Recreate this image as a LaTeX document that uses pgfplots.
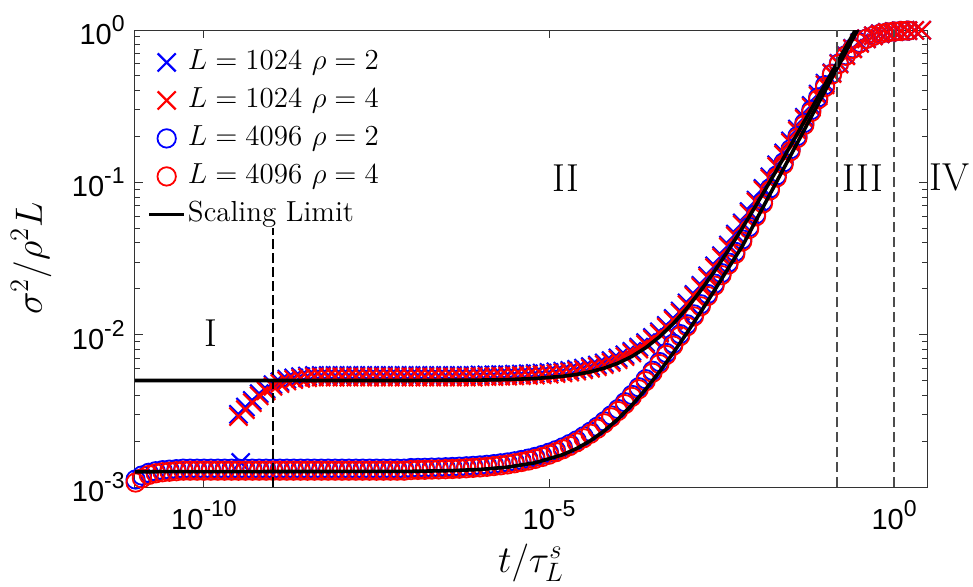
\RequirePackage{fix-cm}
\documentclass[border=0pt]{standalone}
\usepackage{fontspec}
\usepackage{pgfplots}
\usepackage{pgfplotstable}
\pgfplotsset{compat=1.18}
\newfontfamily\tickfont{Liberation Sans}
\newcommand{\tl}[1]{{\tickfont\fontsize{14.5}{15}\selectfont 10\raisebox{6.5pt}{\fontsize{11.5}{12}\selectfont #1}}}
\newcommand{\reg}{\fontsize{19.5}{20}\selectfont}

% L=1024 rho=2
\pgfplotstableread[row sep=\\]{x y\\
3.162e-10 0.00300\\ 3.981e-10 0.00335\\ 5.012e-10 0.00370\\ 6.310e-10 0.00410\\ 7.943e-10 0.00440\\
1e-9 0.00470\\ 1.259e-9 0.00490\\ 1.585e-9 0.00510\\ 1.995e-9 0.00520\\ 2.512e-9 0.00530\\ 3.162e-9 0.00535\\ 3.981e-9 0.00540\\ 5.012e-9 0.00540\\ 6.310e-9 0.00540\\ 7.943e-9 0.00540\\
1e-8 0.00540\\ 1.259e-8 0.00540\\ 1.585e-8 0.00540\\ 1.995e-8 0.00540\\ 2.512e-8 0.00540\\ 3.162e-8 0.00540\\ 3.981e-8 0.00540\\ 5.012e-8 0.00540\\ 6.310e-8 0.00540\\ 7.943e-8 0.00540\\
1e-7 0.00540\\ 1.259e-7 0.00540\\ 1.585e-7 0.00540\\ 1.995e-7 0.00540\\ 2.512e-7 0.00540\\ 3.162e-7 0.00540\\ 3.981e-7 0.00540\\ 5.012e-7 0.00540\\ 6.310e-7 0.00540\\ 7.943e-7 0.00540\\
1e-6 0.00544\\ 1.259e-6 0.00545\\ 1.585e-6 0.00545\\ 1.995e-6 0.00547\\ 2.512e-6 0.00548\\ 3.162e-6 0.00550\\ 3.981e-6 0.00552\\ 5.012e-6 0.00554\\ 6.310e-6 0.00557\\ 7.943e-6 0.00560\\
1e-5 0.00565\\ 1.259e-5 0.00570\\ 1.585e-5 0.00576\\ 1.995e-5 0.00583\\ 2.512e-5 0.00592\\ 3.162e-5 0.00603\\ 3.981e-5 0.00617\\ 5.012e-5 0.00632\\ 6.310e-5 0.00652\\ 7.943e-5 0.00675\\
1e-4 0.00703\\ 1.259e-4 0.00737\\ 1.585e-4 0.00777\\ 1.995e-4 0.00827\\ 2.512e-4 0.00886\\ 3.162e-4 0.00958\\ 3.981e-4 0.01045\\ 5.012e-4 0.01150\\ 6.310e-4 0.01277\\ 7.943e-4 0.01430\\
1e-3 0.01615\\ 1.259e-3 0.01838\\ 1.585e-3 0.02108\\ 1.995e-3 0.02434\\ 2.512e-3 0.02827\\ 3.162e-3 0.03304\\ 3.981e-3 0.03877\\ 5.012e-3 0.04572\\ 6.310e-3 0.05409\\ 7.943e-3 0.06421\\
1e-2 0.07643\\ 1.259e-2 0.09118\\ 1.585e-2 0.1088\\ 1.995e-2 0.1303\\ 2.512e-2 0.1560\\ 3.162e-2 0.1868\\ 3.981e-2 0.2238\\ 5.012e-2 0.2676\\ 6.310e-2 0.3194\\ 7.943e-2 0.3795\\
0.1 0.4481\\ 0.1259 0.5237\\ 0.1585 0.6039\\ 0.1995 0.6842\\ 0.2512 0.7594\\ 0.3162 0.8251\\ 0.3981 0.8774\\ 0.5012 0.9169\\ 0.6310 0.9454\\ 0.7943 0.9647\\
1 0.9774\\ 1.259 0.9858\\ 1.585 0.9912\\ 1.995 0.9944\\ 2.512 0.9965\\
3.4e-10 0.00145\\
}\bxdata

% L=1024 rho=4
\pgfplotstableread[row sep=\\]{x y\\
3.162e-10 0.00290\\ 3.981e-10 0.00322\\ 5.012e-10 0.00358\\ 6.310e-10 0.00397\\ 7.943e-10 0.00428\\
1e-9 0.00458\\ 1.259e-9 0.00478\\ 1.585e-9 0.00497\\ 1.995e-9 0.00507\\ 2.512e-9 0.00517\\ 3.162e-9 0.00522\\ 3.981e-9 0.00527\\ 5.012e-9 0.00527\\ 6.310e-9 0.00527\\ 7.943e-9 0.00527\\
1e-8 0.00527\\ 1.259e-8 0.00527\\ 1.585e-8 0.00527\\ 1.995e-8 0.00527\\ 2.512e-8 0.00527\\ 3.162e-8 0.00527\\ 3.981e-8 0.00527\\ 5.012e-8 0.00527\\ 6.310e-8 0.00527\\ 7.943e-8 0.00527\\
1e-7 0.00527\\ 1.259e-7 0.00527\\ 1.585e-7 0.00527\\ 1.995e-7 0.00527\\ 2.512e-7 0.00527\\ 3.162e-7 0.00527\\ 3.981e-7 0.00527\\ 5.012e-7 0.00527\\ 6.310e-7 0.00527\\ 7.943e-7 0.00527\\
1e-6 0.00530\\ 1.259e-6 0.00531\\ 1.585e-6 0.00531\\ 1.995e-6 0.00533\\ 2.512e-6 0.00534\\ 3.162e-6 0.00536\\ 3.981e-6 0.00538\\ 5.012e-6 0.00540\\ 6.310e-6 0.00543\\ 7.943e-6 0.00546\\
1e-5 0.00551\\ 1.259e-5 0.00556\\ 1.585e-5 0.00562\\ 1.995e-5 0.00568\\ 2.512e-5 0.00577\\ 3.162e-5 0.00588\\ 3.981e-5 0.00602\\ 5.012e-5 0.00616\\ 6.310e-5 0.00636\\ 7.943e-5 0.00658\\
1e-4 0.00685\\ 1.259e-4 0.00719\\ 1.585e-4 0.00758\\ 1.995e-4 0.00806\\ 2.512e-4 0.00864\\ 3.162e-4 0.00934\\ 3.981e-4 0.01019\\ 5.012e-4 0.01121\\ 6.310e-4 0.01245\\ 7.943e-4 0.01394\\
1e-3 0.01575\\ 1.259e-3 0.01792\\ 1.585e-3 0.02055\\ 1.995e-3 0.02373\\ 2.512e-3 0.02756\\ 3.162e-3 0.03221\\ 3.981e-3 0.03780\\ 5.012e-3 0.04458\\ 6.310e-3 0.05274\\ 7.943e-3 0.06260\\
1e-2 0.07452\\ 1.259e-2 0.08890\\ 1.585e-2 0.1061\\ 1.995e-2 0.1270\\ 2.512e-2 0.1521\\ 3.162e-2 0.1821\\ 3.981e-2 0.2182\\ 5.012e-2 0.2609\\ 6.310e-2 0.3114\\ 7.943e-2 0.3700\\
0.1 0.4369\\ 0.1259 0.5185\\ 0.1585 0.5979\\ 0.1995 0.6774\\ 0.2512 0.7518\\ 0.3162 0.8168\\ 0.3981 0.8750\\ 0.5012 0.9150\\ 0.6310 0.9440\\ 0.7943 0.9640\\
1 0.9770\\ 1.259 0.9855\\ 1.585 0.9910\\ 1.995 0.9943\\ 2.512 0.9965\\
}\rxdata

% L=4096 rho=2
\pgfplotstableread[row sep=\\]{x y\\
1.02e-11 0.00112\\ 1.259e-11 0.00119\\ 1.585e-11 0.00124\\ 1.995e-11 0.00127\\ 2.512e-11 0.00129\\ 3.162e-11 0.00130\\ 3.981e-11 0.00131\\ 5.012e-11 0.00132\\ 6.310e-11 0.00132\\ 7.943e-11 0.00132\\
1e-10 0.00132\\ 1.259e-10 0.00132\\ 1.585e-10 0.00132\\ 1.995e-10 0.00132\\ 2.512e-10 0.00132\\ 3.162e-10 0.00132\\ 3.981e-10 0.00132\\ 5.012e-10 0.00132\\ 6.310e-10 0.00132\\ 7.943e-10 0.00132\\
1e-9 0.00132\\ 1.259e-9 0.00132\\ 1.585e-9 0.00132\\ 1.995e-9 0.00132\\ 2.512e-9 0.00132\\ 3.162e-9 0.00132\\ 3.981e-9 0.00132\\ 5.012e-9 0.00132\\ 6.310e-9 0.00132\\ 7.943e-9 0.00132\\
1e-8 0.00132\\ 1.259e-8 0.00132\\ 1.585e-8 0.00132\\ 1.995e-8 0.00132\\ 2.512e-8 0.00132\\ 3.162e-8 0.00132\\ 3.981e-8 0.00132\\ 5.012e-8 0.00132\\ 6.310e-8 0.00132\\ 7.943e-8 0.00132\\
1e-7 0.001332\\ 1.259e-7 0.001335\\ 1.585e-7 0.001337\\ 1.995e-7 0.001341\\ 2.512e-7 0.001344\\ 3.162e-7 0.001349\\ 3.981e-7 0.001354\\ 5.012e-7 0.001360\\ 6.310e-7 0.001368\\ 7.943e-7 0.001377\\
1e-6 0.001387\\ 1.259e-6 0.001399\\ 1.585e-6 0.001414\\ 1.995e-6 0.001431\\ 2.512e-6 0.001451\\ 3.162e-6 0.001475\\ 3.981e-6 0.001504\\ 5.012e-6 0.001537\\ 6.310e-6 0.001577\\ 7.943e-6 0.001624\\
1e-5 0.001680\\ 1.259e-5 0.001746\\ 1.585e-5 0.001824\\ 1.995e-5 0.001916\\ 2.512e-5 0.002025\\ 3.162e-5 0.002154\\ 3.981e-5 0.002306\\ 5.012e-5 0.002487\\ 6.310e-5 0.002700\\ 7.943e-5 0.002953\\
1e-4 0.003252\\ 1.259e-4 0.003606\\ 1.585e-4 0.004024\\ 1.995e-4 0.004519\\ 2.512e-4 0.005104\\ 3.162e-4 0.005797\\ 3.981e-4 0.006617\\ 5.012e-4 0.007586\\ 6.310e-4 0.008733\\ 7.943e-4 0.01009\\
1e-3 0.01170\\ 1.259e-3 0.01359\\ 1.585e-3 0.01584\\ 1.995e-3 0.01850\\ 2.512e-3 0.02164\\ 3.162e-3 0.02536\\ 3.981e-3 0.02976\\ 5.012e-3 0.03497\\ 6.310e-3 0.04215\\ 7.943e-3 0.05094\\
1e-2 0.06172\\ 1.259e-2 0.07494\\ 1.585e-2 0.09123\\ 1.995e-2 0.1111\\ 2.512e-2 0.1354\\ 3.162e-2 0.1652\\ 3.981e-2 0.2015\\ 5.012e-2 0.2455\\ 6.310e-2 0.2986\\ 7.943e-2 0.3614\\
0.1 0.4343\\ 0.1259 0.5163\\ 0.1585 0.6039\\ 0.1995 0.6842\\ 0.2512 0.7594\\ 0.3162 0.8251\\ 0.3981 0.8774\\ 0.5012 0.9169\\ 0.6310 0.9454\\ 0.7943 0.9647\\
1 0.9774\\ 1.259 0.9858\\ 1.585 0.9912\\
}\bodata

% L=4096 rho=4
\pgfplotstableread[row sep=\\]{x y\\
1.02e-11 0.00107\\ 1.259e-11 0.00114\\ 1.585e-11 0.00120\\ 1.995e-11 0.00123\\ 2.512e-11 0.00125\\ 3.162e-11 0.00126\\ 3.981e-11 0.00127\\ 5.012e-11 0.00128\\ 6.310e-11 0.00128\\ 7.943e-11 0.00128\\
1e-10 0.00128\\ 1.259e-10 0.00128\\ 1.585e-10 0.00128\\ 1.995e-10 0.00128\\ 2.512e-10 0.00128\\ 3.162e-10 0.00128\\ 3.981e-10 0.00128\\ 5.012e-10 0.00128\\ 6.310e-10 0.00128\\ 7.943e-10 0.00128\\
1e-9 0.00128\\ 1.259e-9 0.00128\\ 1.585e-9 0.00128\\ 1.995e-9 0.00128\\ 2.512e-9 0.00128\\ 3.162e-9 0.00128\\ 3.981e-9 0.00128\\ 5.012e-9 0.00128\\ 6.310e-9 0.00128\\ 7.943e-9 0.00128\\
1e-8 0.00128\\ 1.259e-8 0.00128\\ 1.585e-8 0.00128\\ 1.995e-8 0.00128\\ 2.512e-8 0.00128\\ 3.162e-8 0.00128\\ 3.981e-8 0.00128\\ 5.012e-8 0.00128\\ 6.310e-8 0.00128\\ 7.943e-8 0.00128\\
1e-7 0.001292\\ 1.259e-7 0.001295\\ 1.585e-7 0.001297\\ 1.995e-7 0.001301\\ 2.512e-7 0.001304\\ 3.162e-7 0.001309\\ 3.981e-7 0.001313\\ 5.012e-7 0.001319\\ 6.310e-7 0.001327\\ 7.943e-7 0.001336\\
1e-6 0.001345\\ 1.259e-6 0.001357\\ 1.585e-6 0.001372\\ 1.995e-6 0.001388\\ 2.512e-6 0.001407\\ 3.162e-6 0.001431\\ 3.981e-6 0.001459\\ 5.012e-6 0.001491\\ 6.310e-6 0.001530\\ 7.943e-6 0.001575\\
1e-5 0.001630\\ 1.259e-5 0.001694\\ 1.585e-5 0.001769\\ 1.995e-5 0.001859\\ 2.512e-5 0.001964\\ 3.162e-5 0.002089\\ 3.981e-5 0.002237\\ 5.012e-5 0.002412\\ 6.310e-5 0.002619\\ 7.943e-5 0.002864\\
1e-4 0.003154\\ 1.259e-4 0.003498\\ 1.585e-4 0.003903\\ 1.995e-4 0.004383\\ 2.512e-4 0.004951\\ 3.162e-4 0.005623\\ 3.981e-4 0.006418\\ 5.012e-4 0.007358\\ 6.310e-4 0.008471\\ 7.943e-4 0.009787\\
1e-3 0.01135\\ 1.259e-3 0.01318\\ 1.585e-3 0.01536\\ 1.995e-3 0.01795\\ 2.512e-3 0.02099\\ 3.162e-3 0.02460\\ 3.981e-3 0.02887\\ 5.012e-3 0.03392\\ 6.310e-3 0.04089\\ 7.943e-3 0.04941\\
1e-2 0.05987\\ 1.259e-2 0.07269\\ 1.585e-2 0.08849\\ 1.995e-2 0.1078\\ 2.512e-2 0.1313\\ 3.162e-2 0.1602\\ 3.981e-2 0.1955\\ 5.012e-2 0.2381\\ 6.310e-2 0.2896\\ 7.943e-2 0.3506\\
0.1 0.4213\\ 0.1259 0.5111\\ 0.1585 0.5979\\ 0.1995 0.6774\\ 0.2512 0.7518\\ 0.3162 0.8168\\ 0.3981 0.8750\\ 0.5012 0.9150\\ 0.6310 0.9440\\ 0.7943 0.9640\\
1 0.9770\\ 1.259 0.9855\\ 1.585 0.9910\\
}\rodata

% scaling limit, upper branch
\pgfplotstableread[row sep=\\]{x y\\
1e-11 0.005\\ 1e-7 0.005005\\ 1e-6 0.005035\\ 2.512e-6 0.005073\\ 6.310e-6 0.005156\\ 1.585e-5 0.005333\\ 2.512e-5 0.005485\\ 3.981e-5 0.005708\\ 6.310e-5 0.006033\\ 1e-4 0.006507\\ 1.585e-4 0.007198\\ 2.512e-4 0.008206\\ 3.981e-4 0.009677\\ 6.310e-4 0.01182\\ 1e-3 0.01495\\ 1.585e-3 0.01952\\ 2.512e-3 0.02618\\ 3.981e-3 0.03590\\ 6.310e-3 0.05008\\ 1e-2 0.07077\\ 1.585e-2 0.1009\\ 2.512e-2 0.1450\\ 3.981e-2 0.2092\\ 6.310e-2 0.3029\\ 0.1 0.4395\\ 0.1585 0.6389\\ 0.2512 0.9297\\ 0.3162 1.122\\
}\sudata

% scaling limit, lower branch
\pgfplotstableread[row sep=\\]{x y\\
1e-11 0.00126\\ 1e-7 0.0012675\\ 3.981e-7 0.001282\\ 1e-6 0.001304\\ 2.512e-6 0.001350\\ 6.310e-6 0.001443\\ 1.585e-5 0.001632\\ 2.512e-5 0.00179\\ 3.981e-5 0.002015\\ 6.310e-5 0.002336\\ 1e-4 0.002795\\ 1.585e-4 0.003448\\ 2.512e-4 0.004379\\ 3.981e-4 0.005706\\ 6.310e-4 0.007599\\ 1e-3 0.0103\\ 1.585e-3 0.01414\\ 2.512e-3 0.01963\\ 3.981e-3 0.02744\\ 6.310e-3 0.0381\\ 1e-2 0.0564\\ 1.585e-2 0.0834\\ 2.512e-2 0.1233\\ 3.981e-2 0.1824\\ 6.310e-2 0.2698\\ 0.1 0.3990\\ 0.1585 0.5902\\ 0.2512 0.8730\\ 0.3981 1.291\\
}\sldata

\begin{document}
\begin{tikzpicture}
\begin{axis}[
  xmode=log, ymode=log,
  scale only axis, width=396pt, height=228.5pt,
  xmin=1e-11, xmax=3, ymin=1e-3, ymax=1,
  xtick={1e-10,1e-5,1}, xticklabels={\tl{-10},\tl{-5},\tl{0}},
  ytick={1e-3,1e-2,1e-1,1}, yticklabels={\tl{-3},\tl{-2},\tl{-1},\tl{0}},
  xminorticks=false,
  minor ytick={2e-3,3e-3,4e-3,5e-3,6e-3,7e-3,8e-3,9e-3,2e-2,3e-2,4e-2,5e-2,6e-2,7e-2,8e-2,9e-2,0.2,0.3,0.4,0.5,0.6,0.7,0.8,0.9},
  xticklabel style={anchor=north, inner sep=0pt, yshift=-6.5pt},
  yticklabel style={anchor=east, inner sep=0pt, xshift=-5pt},
  major tick length=4pt, minor tick length=2.5pt,
  tick style={black!80, line width=0.5pt},
  axis line style={black!80, line width=0.5pt},
  xlabel={$t/\tau_L^s$},
  ylabel={$\sigma^2/\rho^2L$},
  xlabel style={at={(axis description cs:0.5,0)}, anchor=base, yshift=-42.5pt, inner sep=0pt, font=\fontsize{19}{20}\selectfont},
  ylabel style={at={(axis description cs:-0.131,0.5)}, anchor=center, font=\fontsize{19}{20}\selectfont},
  clip mode=individual,
  legend cell align=left,
  legend style={draw=none, fill=none, at={(axis description cs:0,1)}, anchor=north west,
    xshift=6pt, yshift=-8pt, font=\fontsize{14.5}{16}\selectfont, row sep=3pt,
    nodes={inner sep=1pt, text height=10.5pt, text depth=3.5pt}, inner sep=0pt},
  legend image code/.code={\draw[mark repeat=2,mark phase=2] plot coordinates {(0pt,0pt) (8.75pt,0pt) (17.5pt,0pt)};},
]
\addplot[only marks, mark=x, mark size=6.4pt, color=blue, line width=1.1pt] table {\bxdata};
\addlegendentry{$L=1024\ \rho=2$}
\addplot[only marks, mark=x, mark size=6.4pt, color=red, line width=1.1pt] table {\rxdata};
\addlegendentry{$L=1024\ \rho=4$}
\addplot[only marks, mark=o, mark size=4.6pt, color=blue, line width=0.9pt] table {\bodata};
\addlegendentry{$L=4096\ \rho=2$}
\addplot[only marks, mark=o, mark size=4.6pt, color=red, line width=0.9pt] table {\rodata};
\addlegendentry{$L=4096\ \rho=4$}
\addplot[black, line width=1.8pt, mark=none] table {\sudata};
\addlegendentry{Scaling Limit}
\addplot[black, line width=1.8pt, mark=none, forget plot] table {\sldata};
\addplot[black, line width=0.6pt, dash pattern=on 5pt off 2pt, forget plot] coordinates {(1e-9,1e-3) (1e-9,0.05)};
\addplot[black!70, line width=0.75pt, dash pattern=on 5pt off 2.5pt, forget plot] coordinates {(0.15,1e-3) (0.15,1)};
\addplot[black!70, line width=0.75pt, dash pattern=on 5pt off 2.5pt, forget plot] coordinates {(1,1e-3) (1,1)};
\coordinate (RI) at (axis cs:1.259e-10,0.0102);
\coordinate (RII) at (axis cs:1.778e-5,0.107);
\coordinate (RIII) at (axis cs:0.355,0.107);
\coordinate (RIV) at (axis cs:6.31,0.107);
\end{axis}
\node[inner sep=0pt] at (RI) {\reg I};
\node[inner sep=0pt] at (RII) {\reg II};
\node[inner sep=0pt] at (RIII) {\reg III};
\node[inner sep=0pt] at (RIV) {\reg IV};
\pgfresetboundingbox
\path (-67.5pt,-49.5pt) rectangle (419pt,243.5pt);
\end{tikzpicture}
\end{document}
